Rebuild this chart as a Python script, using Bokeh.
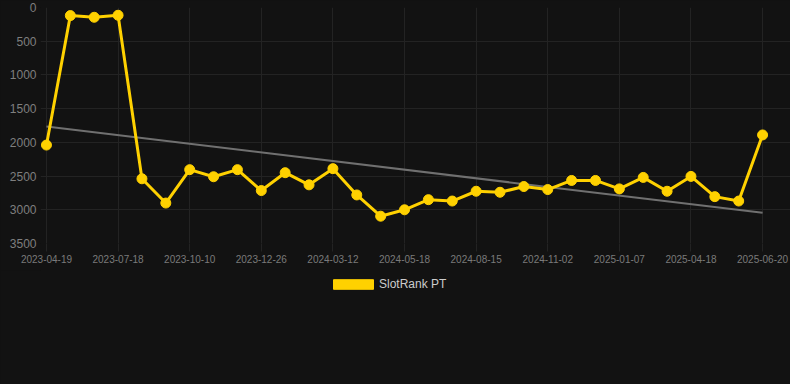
from bokeh.plotting import figure
from bokeh.layouts import column
from bokeh.models import (Range1d, Legend, LegendItem, FixedTicker,
                          ColumnDataSource, GlobalInlineStyleSheet)
from bokeh.embed import file_html
from bokeh.resources import INLINE

# ---- data ----
series_name = "SlotRank PT"
values = [2040, 120, 145, 115, 2540, 2900, 2405, 2510, 2405, 2715,
          2450, 2630, 2390, 2780, 3095, 3000, 2850, 2870, 2725, 2740,
          2655, 2700, 2565, 2565, 2690, 2520, 2725, 2505, 2805, 2870,
          1890]
tick_labels = ["2023-04-19", "2023-07-18", "2023-10-10", "2023-12-26",
               "2024-03-12", "2024-05-18", "2024-08-15", "2024-11-02",
               "2025-01-07", "2025-04-18", "2025-06-20"]
trend_values = [1765, 3045]
y_ticks = [0, 500, 1000, 1500, 2000, 2500, 3000, 3500]

BG = "#121212"
GRID = "#232323"
YELLOW = "#FFD100"
FONT = "Liberation Sans"

idx = list(range(len(values)))
step = (len(values) - 1) // (len(tick_labels) - 1)
tick_idx = idx[::step]

main = figure(width=790, height=270,
              x_range=Range1d(-0.25, 31.17), y_range=Range1d(3500, 0),
              output_backend="svg", toolbar_location=None,
              min_border_left=40, min_border_right=0, min_border_top=7,
              min_border_bottom=27,
              background_fill_color=BG, border_fill_color=BG,
              outline_line_color=None)

# axes
main.xaxis.ticker = FixedTicker(ticks=tick_idx)
main.xaxis.major_label_overrides = {i: lab for i, lab in zip(tick_idx, tick_labels)}
main.xaxis.axis_line_color = None
main.xaxis.major_tick_line_color = GRID
main.xaxis.major_tick_out = 8
main.xaxis.major_tick_in = 0
main.xaxis.minor_tick_line_color = None
main.xaxis.major_label_standoff = 3
main.xaxis.major_label_text_font = FONT
main.xaxis.major_label_text_font_size = "10px"
main.xaxis.major_label_text_color = "#7a7a7a"

main.yaxis.ticker = FixedTicker(ticks=y_ticks)
main.yaxis.axis_line_color = None
main.yaxis.major_tick_line_color = None
main.yaxis.major_tick_out = 0
main.yaxis.major_tick_in = 0
main.yaxis.minor_tick_line_color = None
main.yaxis.major_label_standoff = 4
main.yaxis.major_label_text_font = FONT
main.yaxis.major_label_text_font_size = "12px"
main.yaxis.major_label_text_color = "#7f7f7f"

main.xgrid.ticker = FixedTicker(ticks=tick_idx)
main.ygrid.ticker = FixedTicker(ticks=y_ticks)
main.xgrid.grid_line_color = GRID
main.ygrid.grid_line_color = GRID

# trend line
main.line([idx[0], idx[-1]], trend_values, line_color="#707070", line_width=2)

# main series
src = ColumnDataSource(dict(x=idx, y=values))
main.line("x", "y", source=src, line_color=YELLOW, line_width=3)
main.scatter("x", "y", source=src, size=10, fill_color=YELLOW, line_color=YELLOW)

# legend strip (separate canvas below the chart)
leg = figure(width=790, height=114, x_range=Range1d(0, 1), y_range=Range1d(0, 1),
             output_backend="svg", toolbar_location=None,
             min_border_left=0, min_border_right=0, min_border_top=0,
             min_border_bottom=0,
             background_fill_color=BG, border_fill_color=BG,
             outline_line_color=None)
leg.axis.visible = False
leg.grid.visible = False
# swatch renderer lies outside the visible range; only its legend entry shows
swatch = leg.quad(left=[5], right=[6], top=[6], bottom=[5],
                  fill_color=YELLOW, line_color=YELLOW)
legend = Legend(items=[LegendItem(label=series_name, renderers=[swatch])],
                location=(288, 93), orientation="horizontal",
                glyph_width=50, glyph_height=12, label_standoff=1,
                label_height=10, label_width=10,
                label_text_font=FONT, label_text_font_size="12px",
                label_text_color="#cccccc", padding=0, margin=0, spacing=0,
                background_fill_alpha=0, border_line_alpha=0)
leg.add_layout(legend, "center")

p = column(main, leg, spacing=0)
p.stylesheets = [GlobalInlineStyleSheet(css="html, body { background-color: #121212; }")]

open("out.html", "w").write(file_html(p, INLINE))
